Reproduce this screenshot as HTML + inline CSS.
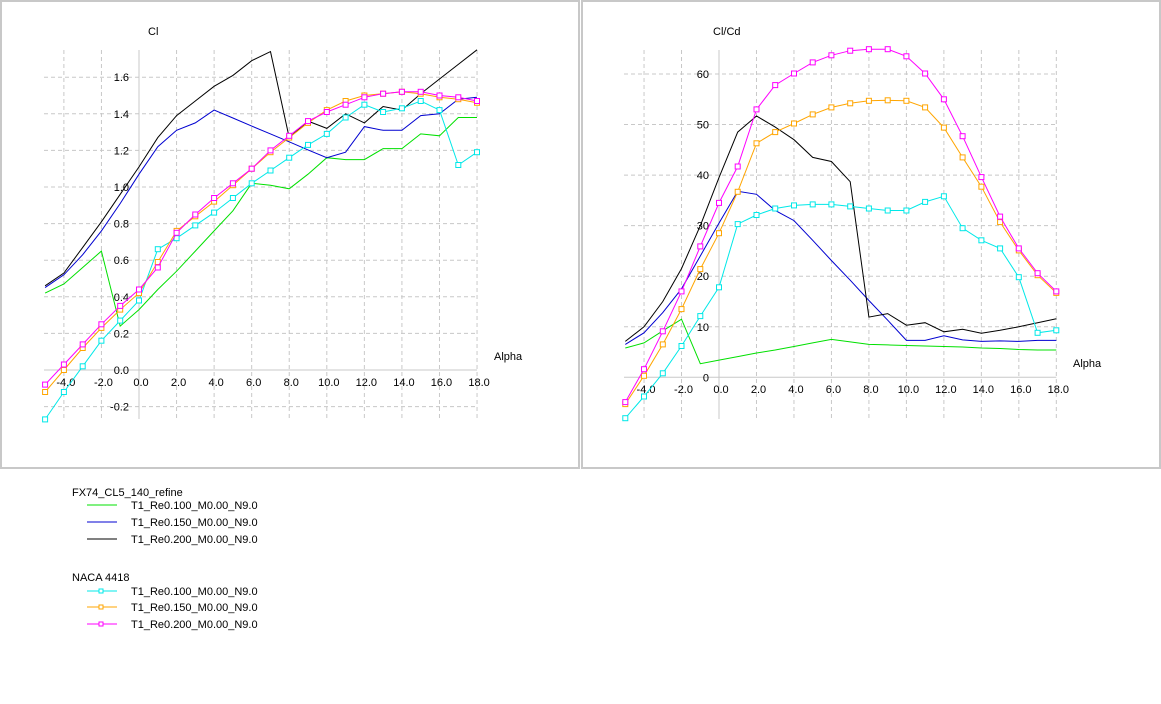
<!DOCTYPE html>
<html><head><meta charset="utf-8"><style>
html,body{margin:0;padding:0;background:#fff;width:1161px;height:704px;overflow:hidden}
svg{display:block;font-family:"Liberation Sans",sans-serif;font-size:11px}
</style></head><body>
<svg id="s" width="1161" height="704" xmlns="http://www.w3.org/2000/svg"></svg>
<script>
const S=document.getElementById('s');let h='';
h+='<rect x="1" y="1" width="578" height="467" fill="none" stroke="#c8c8c8" stroke-width="2"/>';
h+='<rect x="582" y="1" width="578" height="467" fill="none" stroke="#c8c8c8" stroke-width="2"/>';
const A=[-5,-4,-3,-2,-1,0,1,2,3,4,5,6,7,8,9,10,11,12,13,14,15,16,17,18];
function chart(x0,ppd,y0,ppu,yt,ytfmt,top,bot,left,lab,labx,alx,aly,xly,series){
 const X=a=>x0+ppd*a,Y=v=>y0-ppu*v;
 for(let a=-4;a<=18;a+=2){if(a==0)continue;h+=`<line x1="${X(a)}" y1="${top}" x2="${X(a)}" y2="${bot}" stroke="#c8c8c8" stroke-dasharray="4,3"/>`;}
 yt.forEach(v=>{if(v==0)return;h+=`<line x1="${left}" y1="${Y(v)}" x2="${X(18)}" y2="${Y(v)}" stroke="#c8c8c8" stroke-dasharray="4,3"/>`;});
 h+=`<line x1="${X(0)}" y1="${top}" x2="${X(0)}" y2="${bot}" stroke="#c8c8c8"/>`;
 h+=`<line x1="${left}" y1="${Y(0)}" x2="${X(18)}" y2="${Y(0)}" stroke="#c8c8c8"/>`;
 yt.forEach(v=>{h+=`<text x="${X(0)-10}" y="${Y(v)+4}" text-anchor="end" fill="#000">${ytfmt(v)}</text>`;});
 for(let a=-4;a<=18;a+=2)h+=`<text x="${X(a)+2}" y="${xly}" text-anchor="middle" fill="#000">${a.toFixed(1)}</text>`;
 h+=`<text x="${labx}" y="35" fill="#000">${lab}</text>`;
 h+=`<text x="${alx}" y="${aly}" fill="#000">Alpha</text>`;
 series.forEach(([c,d,m])=>{
  const p=d.map((v,i)=>`${X(A[i]).toFixed(1)},${Y(v).toFixed(1)}`).join(' ');
  h+=`<polyline points="${p}" fill="none" stroke="${c}" stroke-width="1"/>`;
  if(m)d.forEach((v,i)=>{h+=`<rect x="${(X(A[i])-2.5).toFixed(1)}" y="${(Y(v)-2.5).toFixed(1)}" width="5" height="5" fill="#fff" stroke="${c}"/>`;});
 });
}
const G1=[0.42,0.47,0.56,0.65,0.24,0.33,0.44,0.54,0.65,0.76,0.87,1.02,1.01,0.99,1.07,1.16,1.15,1.15,1.21,1.21,1.29,1.28,1.38,1.38];
const B1=[0.45,0.52,0.63,0.76,0.91,1.07,1.22,1.31,1.35,1.42,1.377,1.333,1.29,1.247,1.203,1.16,1.19,1.33,1.31,1.31,1.39,1.40,1.48,1.49];
const K1=[0.46,0.53,0.67,0.81,0.96,1.11,1.27,1.39,1.47,1.55,1.61,1.69,1.74,1.27,1.36,1.32,1.40,1.35,1.44,1.42,1.51,1.59,1.67,1.75];
const C1=[-0.27,-0.12,0.02,0.16,0.27,0.38,0.66,0.72,0.79,0.86,0.94,1.02,1.09,1.16,1.23,1.29,1.38,1.45,1.41,1.43,1.47,1.42,1.12,1.19];
const O1=[-0.12,0.00,0.12,0.23,0.33,0.42,0.59,0.76,0.84,0.92,1.01,1.10,1.19,1.27,1.35,1.42,1.47,1.50,1.51,1.52,1.51,1.49,1.48,1.46];
const M1=[-0.08,0.03,0.14,0.25,0.35,0.44,0.56,0.75,0.85,0.94,1.02,1.10,1.20,1.28,1.36,1.41,1.45,1.49,1.51,1.52,1.52,1.50,1.49,1.47];
chart(139,18.78,370,183,[-0.2,0,0.2,0.4,0.6,0.8,1.0,1.2,1.4,1.6],v=>v.toFixed(1),50,419,44,'Cl',148,494,360,386,
 [['#00e000',G1],['#0000d0',B1],['#000',K1],['#00e8e8',C1,1],['#ffa500',O1,1],['#ff00ff',M1,1]]);
const G2=[5.8,6.8,9.2,11.5,2.7,3.4,4.1,4.8,5.4,6.1,6.8,7.5,7.0,6.5,6.4,6.3,6.2,6.1,6.0,5.8,5.7,5.5,5.4,5.4];
const B2=[6.5,8.8,12.8,17.5,24,30.5,36.8,36.2,33,31,27.1,23.1,19.2,15.2,11.3,7.3,7.3,8.2,7.4,7.1,7.2,7.1,7.3,7.3];
const K2=[7.1,10,15,21.5,30,39.5,48.5,51.7,49.5,47,43.5,42.7,38.7,11.9,12.6,10.3,10.8,9.0,9.5,8.7,9.3,10,10.8,11.6];
const C2=[-8.1,-3.8,0.8,6.2,12.1,17.8,30.3,32.1,33.4,34.0,34.2,34.2,33.8,33.4,33.0,33.0,34.7,35.8,29.5,27.1,25.5,19.8,8.8,9.3];
const O2=[-5.3,0.3,6.5,13.5,21.4,28.5,36.7,46.3,48.5,50.2,52.0,53.4,54.2,54.7,54.8,54.7,53.4,49.4,43.5,37.7,30.7,25.1,20.2,16.7];
const M2=[-4.9,1.6,9.1,17.0,25.9,34.5,41.7,53.0,57.8,60.1,62.3,63.7,64.6,64.9,64.9,63.5,60.1,55.0,47.7,39.6,31.8,25.5,20.6,17.0];
chart(719,18.74,377.3,5.055,[0,10,20,30,40,50,60],v=>v,50,419,624,'Cl/Cd',713,1073,367,393,
 [['#00e000',G2],['#0000d0',B2],['#000',K2],['#00e8e8',C2,1],['#ffa500',O2,1],['#ff00ff',M2,1]]);
h+='<text x="72" y="496" fill="#000">FX74_CL5_140_refine</text>';
h+='<text x="72" y="581" fill="#000">NACA 4418</text>';
[[505,'#00e000',0],[522,'#0000d0',0],[539,'#000',0],[591,'#00e8e8',1],[607,'#ffa500',1],[624,'#ff00ff',1]].forEach(([y,c,m])=>{
 h+=`<line x1="87" y1="${y}" x2="117" y2="${y}" stroke="${c}"/>`;
 if(m)h+=`<rect x="99" y="${y-2}" width="4" height="4" fill="#fff" stroke="${c}"/>`;
 h+=`<text x="131" y="${y+4}" fill="#000">T1_Re0.${y==505||y==591?'100':y==522||y==607?'150':'200'}_M0.00_N9.0</text>`;
});
S.innerHTML=h;
</script>
</body></html>
